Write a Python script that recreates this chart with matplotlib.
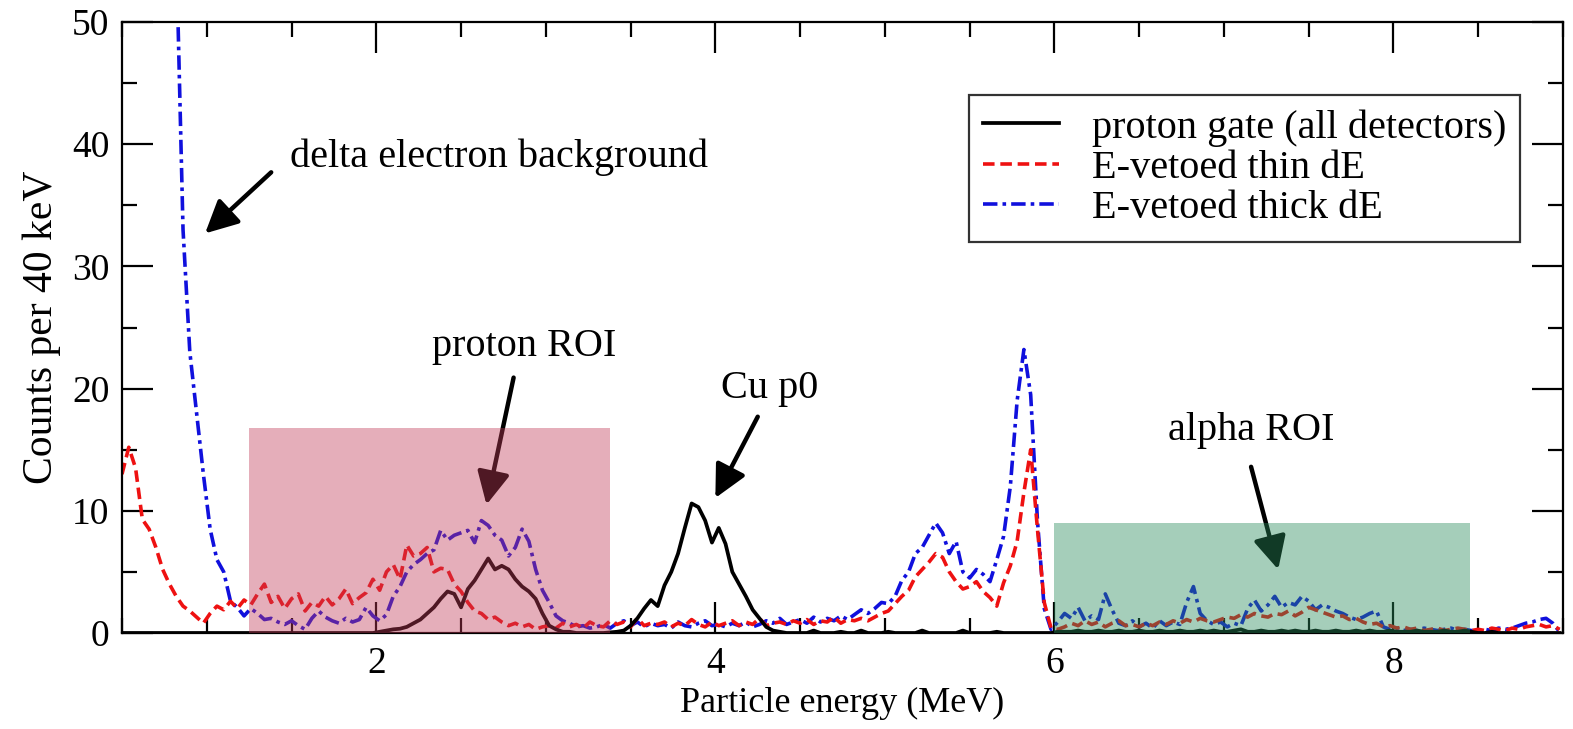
import numpy as np
import matplotlib
matplotlib.use("Agg")
import matplotlib.pyplot as plt
from matplotlib.patches import Rectangle
from matplotlib.lines import Line2D

plt.rcParams['font.family'] = ['Liberation Serif', 'DejaVu Serif']

# Energy bins (MeV), 40 keV wide
energy = np.round(0.50 + 0.04 * np.arange(213), 2)

proton_gate = [
    0, 0, 0, 0, 0, 0, 0, 0, 0, 0,
    0, 0, 0, 0, 0, 0, 0, 0, 0, 0,
    0, 0, 0, 0, 0, 0, 0, 0, 0, 0,
    0, 0, 0, 0, 0, 0, 0, 0, 0.1, 0.2,
    0.3, 0.35, 0.5, 0.8, 1.1, 1.6, 2.1, 2.8, 3.4, 3.2,
    2.1, 3.6, 4.3, 5.2, 6.1, 5.2, 5.5, 5.2, 4.4, 3.8,
    3.4, 2.8, 1.6, 0.6, 0.3, 0.1, 0.1, 0, 0, 0,
    0, 0, 0.05, 0.1, 0.2, 0.6, 1.2, 2.0, 2.7, 2.2,
    3.9, 5.0, 6.5, 8.6, 10.6, 10.3, 9.2, 7.4, 8.6, 7.3,
    5.0, 4.0, 3.0, 1.9, 1.2, 0.5, 0.2, 0.1, 0, 0,
    0, 0, 0.2, 0, 0, 0, 0.1, 0, 0, 0.2,
    0, 0, 0, 0.1, 0, 0, 0, 0, 0.2, 0,
    0, 0, 0, 0, 0.2, 0, 0, 0, 0, 0.1,
    0, 0, 0, 0, 0, 0, 0, 0, 0.1, 0.1,
    0.1, 0.2, 0.1, 0.1, 0.2, 0.1, 0.1, 0.2, 0.1, 0.1,
    0.2, 0.1, 0.1, 0.2, 0.1, 0.1, 0.2, 0.1, 0.1, 0.2,
    0.1, 0.2, 0.1, 0.1, 0.2, 0.3, 0.1, 0.1, 0.2, 0.1,
    0.1, 0.2, 0.1, 0.2, 0.1, 0.1, 0.2, 0.1, 0.1, 0.2,
    0.1, 0.1, 0.2, 0.1, 0.2, 0.1, 0.1, 0.2, 0.1, 0.1,
    0.1, 0.2, 0.1, 0.1, 0.1, 0.2, 0.1, 0.1, 0.2, 0.1,
    0, 0, 0.1, 0, 0, 0, 0, 0, 0, 0,
    0, 0, 0,
]

thin_de = [
    13.0, 15.2, 13.5, 9.3, 8.5, 7.0, 5.2, 4.0, 3.0, 2.2,
    1.8, 1.3, 0.8, 1.6, 2.2, 1.9, 2.6, 2.0, 2.7, 2.3,
    3.2, 4.0, 2.5, 3.0, 2.0, 2.8, 3.2, 1.8, 2.5, 2.2,
    3.0, 2.3, 2.8, 3.6, 2.4, 2.9, 3.3, 4.4, 3.5, 5.0,
    5.6, 4.4, 7.2, 6.3, 6.5, 7.0, 5.0, 5.3, 5.2, 4.0,
    3.4, 2.5, 1.8, 1.6, 1.1, 1.3, 0.9, 0.6, 0.8, 0.5,
    0.7, 0.3, 0.5, 0.6, 0.4, 0.8, 0.5, 0.7, 0.4, 0.9,
    0.6, 0.5, 1.0, 0.7, 0.9, 0.5, 1.2, 0.6, 0.8, 0.7,
    0.9, 0.5, 0.8, 0.6, 1.1, 0.7, 0.5, 0.9, 0.6, 0.8,
    1.0, 0.6, 0.9, 0.7, 1.2, 0.6, 0.8, 0.9, 0.7, 1.0,
    0.8, 1.1, 0.7, 1.0, 0.9, 1.3, 0.8, 1.1, 1.0, 1.2,
    1.0, 1.3, 1.6, 1.8, 2.4, 3.0, 3.5, 4.6, 5.2, 5.8,
    6.5, 6.2, 5.0, 4.2, 3.6, 3.8, 4.2, 3.4, 2.9, 2.2,
    4.1, 5.5, 7.5, 11.5, 15.0, 8.5, 2.5, 0.4, 0.3, 0.5,
    0.8, 0.6, 1.0, 0.7, 0.9, 0.5, 0.8, 1.0, 0.6, 0.7,
    0.5, 0.8, 0.6, 0.9, 0.7, 1.0, 0.8, 1.1, 0.9, 1.2,
    1.0, 0.9, 1.1, 1.3, 1.2, 1.5, 1.3, 1.6, 1.4, 1.3,
    1.6, 1.5, 1.8, 1.4, 1.7, 2.1, 1.9, 1.7, 1.5, 1.3,
    1.4, 1.1, 1.2, 0.9, 0.7, 0.8, 0.5, 0.6, 0.4, 0.5,
    0.3, 0.4, 0.2, 0.3, 0.4, 0.2, 0.3, 0.4, 0.3, 0.2,
    0.3, 0.2, 0.4, 0.3, 0.2, 0.4, 0.3, 0.5, 0.6, 0.7,
    0.5, 0.6, 0.3,
]

thick_de = [
    120, 110, 100, 95, 90, 85, 78, 70, 56, 33,
    23.0, 18.0, 13.0, 8.5, 6.0, 5.0, 2.6, 2.1, 1.4, 2.0,
    1.6, 1.1, 1.2, 0.9, 0.7, 1.0, 0.6, 0.3, 1.2, 1.8,
    1.3, 1.0, 0.8, 1.2, 0.9, 1.1, 2.1, 1.4, 1.0, 1.5,
    3.0, 3.8, 5.0, 5.6, 6.0, 6.5, 6.8, 8.4, 7.6, 8.0,
    8.2, 8.4, 7.4, 9.2, 8.8, 8.0, 7.6, 6.3, 7.0, 8.5,
    7.5, 5.2, 3.5, 2.5, 1.4, 1.0, 0.8, 0.5, 0.6, 0.4,
    0.5, 0.7, 0.4, 0.8, 1.0, 0.6, 0.9, 0.5, 0.8, 0.6,
    0.7, 0.4, 0.9, 0.6, 0.5, 0.8, 1.0, 0.6, 0.7, 0.5,
    0.8, 0.6, 0.9, 0.5, 0.7, 1.0, 0.8, 1.2, 0.7, 0.9,
    1.1, 0.8, 1.3, 0.9, 1.2, 1.0, 1.4, 1.1, 1.5, 1.9,
    1.6, 2.0, 2.5, 2.4, 3.0, 4.3, 5.0, 6.5, 7.0, 8.0,
    9.0, 8.2, 6.5, 7.5, 5.0, 4.5, 5.2, 4.8, 4.2, 6.0,
    7.9, 12.0, 19.0, 23.2, 19.5, 9.2, 2.0, 0.3, 0.9, 1.6,
    1.2, 2.1, 1.0, 1.4, 1.1, 3.2, 1.9, 0.8, 0.6, 1.0,
    0.5, 0.8, 0.4, 1.0, 0.6, 0.9, 0.7, 2.5, 3.8, 1.6,
    1.0, 0.7, 0.9, 0.5, 0.8, 0.6, 2.0, 2.7, 1.8, 2.3,
    3.0, 2.1, 2.5, 2.3, 3.0, 2.6, 1.9, 2.3, 2.1, 1.8,
    1.6, 1.3, 1.1, 1.3, 1.6, 1.8, 0.5, 0.3, 0.4, 0.2,
    0.3, 0.2, 0.4, 0.3, 0.2, 0.3, 0.4, 0.2, 0.3, 0.2,
    0.2, 0.3, 0.2, 0.4, 0.3, 0.4, 0.6, 0.8, 0.9, 1.1,
    1.2, 0.8, 0.1,
]

series_labels = ["proton gate (all detectors)", "E-vetoed thin dE", "E-vetoed thick dE"]

# Regions of interest (MeV, counts)
proton_roi = (1.25, 3.38, 16.8)
alpha_roi = (6.0, 8.45, 9.0)

fig = plt.figure(figsize=(15.73, 7.29), dpi=100)
ax = fig.add_axes([122 / 1573, 1 - 633 / 729, (1563 - 122) / 1573, (633 - 22) / 729])

ax.plot(energy, proton_gate, color='black', lw=2.7, ls='-', zorder=2.2)
ax.plot(energy, thin_de, color='#ee1111', lw=2.6, ls=(0, (3.2, 1.6)), zorder=2.1)
ax.plot(energy, thick_de, color='#1010dd', lw=2.6, ls=(0, (4, 1.4, 1, 1.4)), zorder=2.0)

ax.set_xlim(0.5, 9.0)
ax.set_ylim(0, 50)

ax.add_patch(Rectangle((proton_roi[0], 0), proton_roi[1] - proton_roi[0], proton_roi[2],
                       facecolor='#c23c58', alpha=0.41, edgecolor='none', zorder=5))
ax.add_patch(Rectangle((alpha_roi[0], 0), alpha_roi[1] - alpha_roi[0], alpha_roi[2],
                       facecolor='#2a8c5c', alpha=0.42, edgecolor='none', zorder=5))

ax.set_xticks([2, 4, 6, 8])
ax.set_xticks(np.arange(0.5, 9.01, 0.5), minor=True)
ax.set_yticks([0, 10, 20, 30, 40, 50])
ax.set_yticks(np.arange(0, 50.1, 5), minor=True)
ax.tick_params(which='both', direction='in', top=True, right=True, width=1.6, labelsize=27, colors='black')
ax.tick_params(which='major', length=22)
ax.tick_params(which='minor', length=11)
ax.tick_params(axis='x', which='major', pad=10)
ax.tick_params(axis='y', which='major', pad=9)
for s in ax.spines.values():
    s.set_linewidth(1.6)

ax.set_xlabel("Particle energy (MeV)", fontsize=26, labelpad=4)
ax.set_ylabel("Counts per 40 keV", fontsize=30, labelpad=8)

arrow_kw = dict(arrowstyle='-|>,head_length=0.9,head_width=0.45', lw=3.2, color='black',
                shrinkA=0, shrinkB=0, mutation_scale=22)

ax.annotate("", xy=(0.99, 32.7), xytext=(1.38, 37.7), arrowprops=arrow_kw, zorder=2.5)
ax.text(1.49, 38.1, "delta electron background", fontsize=29, ha='left', va='baseline')

ax.annotate("", xy=(2.65, 10.5), xytext=(2.81, 20.9), arrowprops=arrow_kw, zorder=2.5)
ax.text(2.87, 22.7, "proton ROI", fontsize=29, ha='center', va='baseline')

ax.annotate("", xy=(4.0, 11.05), xytext=(4.25, 17.7), arrowprops=arrow_kw, zorder=2.5)
ax.text(4.32, 19.2, "Cu p0", fontsize=29, ha='center', va='baseline')

ax.annotate("", xy=(7.32, 5.2), xytext=(7.16, 13.6), arrowprops=arrow_kw, zorder=2.5)
ax.text(7.16, 15.8, "alpha ROI", fontsize=29, ha='center', va='baseline')

handles = [
    Line2D([], [], color='black', lw=2.7, ls='-'),
    Line2D([], [], color='#ee1111', lw=2.6, ls=(0, (3.2, 1.6))),
    Line2D([], [], color='#1010dd', lw=2.6, ls=(0, (4, 1.4, 1, 1.4))),
]
leg = ax.legend(handles, series_labels, loc='upper right',
                bbox_to_anchor=(1520 / 1573, 1 - 95 / 729), bbox_transform=fig.transFigure,
                fontsize=29, frameon=True, fancybox=False, edgecolor='black',
                handlelength=1.9, handletextpad=0.8, labelspacing=0.08,
                borderpad=0.35, borderaxespad=0)
leg.get_frame().set_linewidth(1.6)
leg.set_zorder(10)

fig.savefig("out.png", dpi=100)
